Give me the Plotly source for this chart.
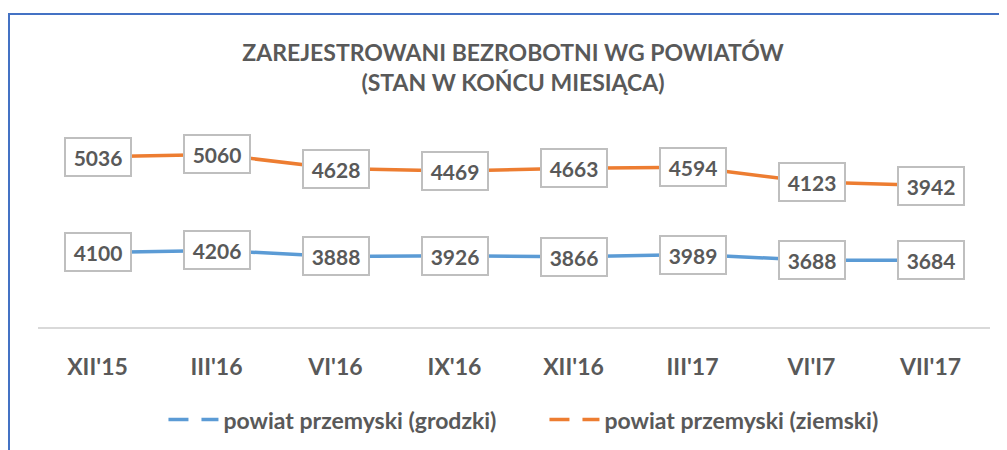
import numpy as np
import plotly.graph_objects as go

categories = ["XII'15", "III'16", "VI'16", "IX'16", "XII'16", "III'17", "VI'I7", "VII'17"]
grodzki = [4100, 4206, 3888, 3926, 3866, 3989, 3688, 3684]
ziemski = [5036, 5060, 4628, 4469, 4663, 4594, 4123, 3942]
series_names = ["powiat przemyski (grodzki)", "powiat przemyski (ziemski)"]
colors = ["#5B9BD5", "#ED7D31"]

TXT = "#595959"
FONT = "Lato"

stacked_top = (np.array(grodzki) + np.array(ziemski)).tolist()

fig = go.Figure()
fig.add_trace(go.Scatter(x=categories, y=grodzki, mode="lines", name=series_names[0],
                         line=dict(color=colors[0], width=3.5), showlegend=False))
fig.add_trace(go.Scatter(x=categories, y=stacked_top, mode="lines", name=series_names[1],
                         line=dict(color=colors[1], width=3.5), showlegend=False))
# legend entries
for nm, c in zip(series_names, colors):
    fig.add_trace(go.Scatter(x=[None], y=[None], mode="lines", name=nm,
                             line=dict(color=c, width=3.5, dash="20px,13px")))

ann = []
for vals, ypos in ((grodzki, grodzki), (ziemski, stacked_top)):
    for cat, v, yp in zip(categories, vals, ypos):
        ann.append(dict(x=cat, y=yp, xref="x", yref="y", text=f"<b>{v}</b>", showarrow=False,
                        font=dict(family=FONT, size=21, color=TXT),
                        bgcolor="white", bordercolor="#BFBFBF", borderwidth=2,
                        width=62, height=34, borderpad=1, xanchor="center", yanchor="middle"))

# page body adds an 8px offset; layout numbers below compensate for it
fig.update_layout(
    width=1007, height=450,
    margin=dict(l=30, r=25, t=126, b=131),
    paper_bgcolor="white", plot_bgcolor="white",
    title=dict(text="<b>ZAREJESTROWANI BEZROBOTNI WG POWIATÓW<br>(STAN W KOŃCU MIESIĄCA)</b>",
               x=0.5015, xanchor="center", y=1 - 53 / 450, yanchor="top",
               font=dict(family=FONT, size=23, color=TXT, lineposition="none")),
    xaxis=dict(type="category", range=[-0.5, 7.5], showgrid=False, showline=True,
               linecolor="#D9D9D9", linewidth=1.5,
               ticks="", ticklabelstandoff=19, zeroline=False,
               tickfont=dict(family=FONT, size=23, color=TXT, weight="bold")),
    yaxis=dict(range=[170, 10340], visible=False, showgrid=False, zeroline=False),
    legend=dict(orientation="h", x=0.532, xanchor="center", y=-0.48, yanchor="middle",
                itemwidth=50, entrywidth=316,
                font=dict(family=FONT, size=23, color=TXT, weight="bold"),
                itemclick=False),
    annotations=ann,
    shapes=[dict(type="rect", xref="paper", yref="paper",
                 x0=(1 - 30) / 952, x1=1.2, y0=-1.0, y1=(319 - 6) / 193,
                 line=dict(color="#4472C4", width=2), fillcolor="rgba(0,0,0,0)", layer="below")],
)
fig.write_html("out.html")
